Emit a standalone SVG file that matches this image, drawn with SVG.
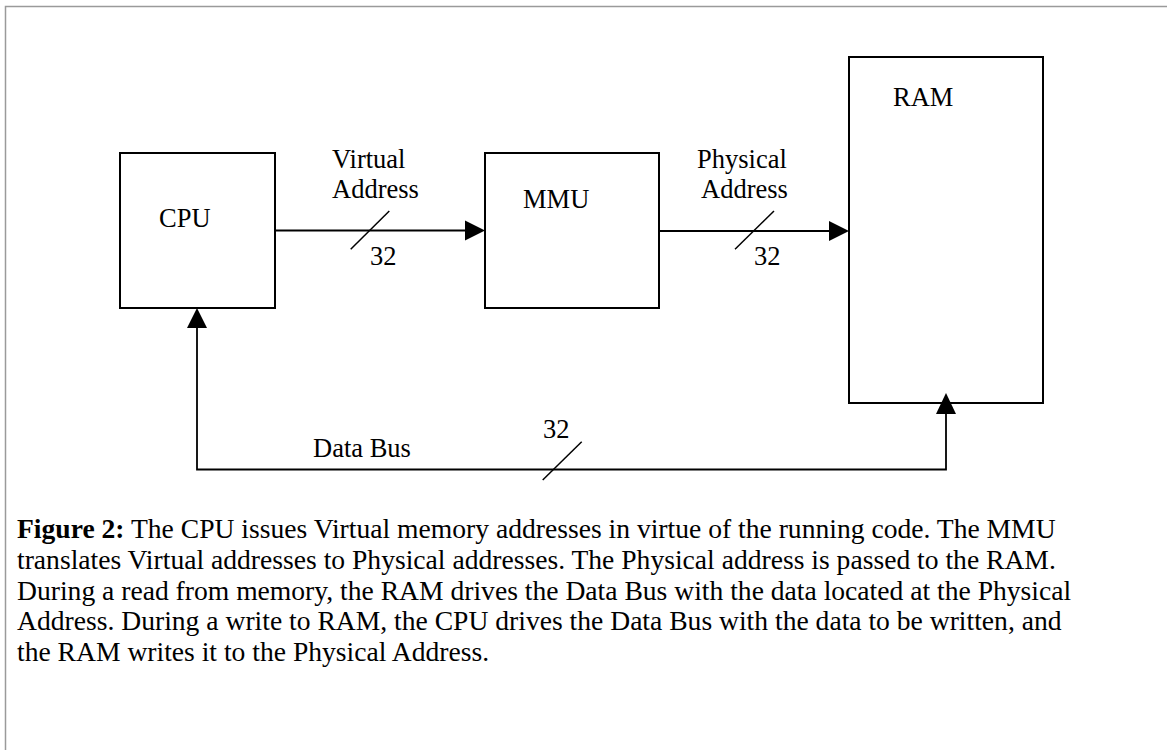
<svg xmlns="http://www.w3.org/2000/svg" width="1167" height="750" viewBox="0 0 1167 750">
  <style>
    .box { fill: #ffffff; stroke: #000000; stroke-width: 2; }
    .wire { fill: none; stroke: #000000; stroke-width: 1.8; }
    .tick { fill: none; stroke: #000000; stroke-width: 1.5; }
    .head { fill: #000000; }
    .lbl { font-family: "Liberation Serif", "Times New Roman", serif; font-size: 26.5px; fill: #000000; }
    .cap { font-family: "Liberation Serif", "Times New Roman", serif; font-size: 27.6px; fill: #000000; }
  </style>

  <!-- page frame -->
  <rect width="1167" height="750" fill="#ffffff"/>
  <path d="M5.5,750 V6.5 H1167" fill="none" stroke="#9a9a9a" stroke-width="1.5"/>

  <!-- connectors -->
  <g id="connectors">
    <!-- virtual address bus -->
    <line class="wire" x1="275" y1="230.5" x2="466" y2="230.5"/>
    <polygon class="head" points="465,220.5 485,230.5 465,240.5"/>
    <line class="tick" x1="350.7" y1="249.3" x2="389.3" y2="211"/>
    <text class="lbl" x="332" y="168">Virtual</text>
    <text class="lbl" x="332" y="198">Address</text>
    <text class="lbl" x="370" y="265">32</text>

    <!-- physical address bus -->
    <line class="wire" x1="659" y1="231" x2="830" y2="231"/>
    <polygon class="head" points="829,221 849,231 829,241"/>
    <line class="tick" x1="735" y1="249.3" x2="774" y2="211"/>
    <text class="lbl" x="697" y="168">Physical</text>
    <text class="lbl" x="701" y="198">Address</text>
    <text class="lbl" x="754" y="265">32</text>

    <!-- data bus -->
    <path class="wire" d="M946,413 V469.5 H197 V327"/>
    <polygon class="head" points="936,414 946,393 956,414"/>
    <polygon class="head" points="187,328 197,308 207,328"/>
    <line class="tick" x1="542.7" y1="480" x2="581.7" y2="441.7"/>
    <text class="lbl" x="313" y="457">Data Bus</text>
    <text class="lbl" x="543" y="438">32</text>
  </g>

  <!-- blocks -->
  <g id="cpu">
    <rect class="box" x="120" y="153" width="155" height="155"/>
    <text class="lbl" x="159" y="227">CPU</text>
  </g>
  <g id="mmu">
    <rect class="box" x="485" y="153" width="174" height="155"/>
    <text class="lbl" x="523" y="208">MMU</text>
  </g>
  <g id="ram">
    <rect class="box" x="849" y="57" width="194" height="346" style="fill:none"/>
    <text class="lbl" x="893" y="106">RAM</text>
  </g>

  <!-- caption -->
  <g id="caption">
    <text class="cap" x="17" y="538"><tspan font-weight="bold">Figure 2:</tspan> The CPU issues Virtual memory addresses in virtue of the running code. The MMU</text>
    <text class="cap" x="17" y="569">translates Virtual addresses to Physical addresses. The Physical address is passed to the RAM.</text>
    <text class="cap" x="17" y="600">During a read from memory, the RAM drives the Data Bus with the data located at the Physical</text>
    <text class="cap" x="17" y="630">Address. During a write to RAM, the CPU drives the Data Bus with the data to be written, and</text>
    <text class="cap" x="17" y="661">the RAM writes it to the Physical Address.</text>
  </g>
</svg>
